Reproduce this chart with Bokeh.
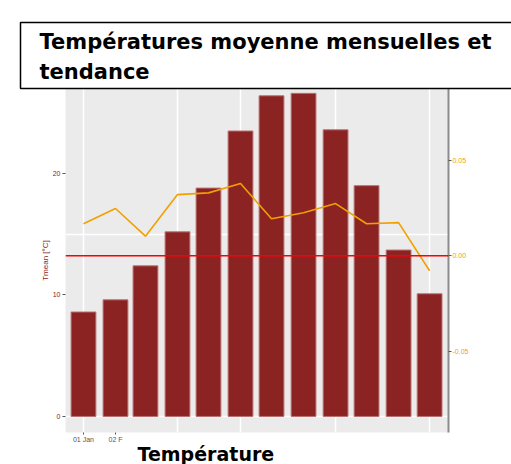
import pandas as pd
from bokeh.plotting import figure
from bokeh.models import (Range1d, LinearAxis, FixedTicker, Span, Title,
                          NumeralTickFormatter, Grid)
from bokeh.embed import file_html
from bokeh.resources import INLINE

# ---- data ----
month_starts = ["2020-01-01", "2020-02-01", "2020-03-01", "2020-04-01",
                "2020-05-01", "2020-06-01", "2020-07-01", "2020-08-01",
                "2020-09-01", "2020-10-01", "2020-11-01", "2020-12-01"]
tmean = [8.6, 9.6, 12.4, 15.2, 18.8, 23.5, 26.4, 26.6, 23.6, 19.0, 13.7, 10.1]
trend = [0.0168, 0.0248, 0.0103, 0.0321, 0.0330, 0.0379, 0.0194, 0.0226,
         0.0274, 0.0168, 0.0174, -0.0078]
grid_dates = ["2020-01-01", "2020-04-01", "2020-06-01", "2020-09-01", "2020-12-01"]
x_tick_dates = ["2020-01-01", "2020-02-01"]
x_tick_labels = ["01 Jan", "02 F"]
left_ticks = [0, 10, 20]
left_grid = [0, 15]
right_ticks = [-0.05, 0.0, 0.05]

title_text = "Températures moyenne mensuelles et\ntendance"
xlabel_text = "Température"
ylabel_text = "Tmean [°C]"


def ms(d):
    return float(pd.Timestamp(d).value // 10**6)


DAY = 86400000.0
xs = [ms(d) for d in month_starts]

# ---- layout ----
W, H = 511, 464
FL, FR, FT, FB = 65, 448, 88, 432
x0 = ms("2020-01-01") - 17.4 * DAY
x1 = ms("2020-12-01") + 18.3 * DAY
y0, y1 = -1.32, 27.0
r0, r1 = -0.0926, 0.0877

BAR = "#8B2323"
ORANGE = "#F2A000"
DARKRED = "#8B1A1A"

p = figure(width=W, height=H, output_backend="svg", toolbar_location=None,
           x_axis_type=None, y_axis_type=None,
           x_range=Range1d(x0, x1), y_range=Range1d(y0, y1),
           min_border_left=FL, min_border_right=W - FR,
           min_border_top=FT, min_border_bottom=H - FB,
           background_fill_color="#EBEBEB", border_fill_color="white",
           outline_line_color=None)
p.extra_y_ranges = {"trend": Range1d(r0, r1)}

# grids
p.add_layout(Grid(dimension=0, ticker=FixedTicker(ticks=[ms(d) for d in grid_dates]),
                  grid_line_color="white", grid_line_width=1.5), "center")
p.add_layout(Grid(dimension=1, ticker=FixedTicker(ticks=left_grid),
                  grid_line_color="white", grid_line_width=1.5), "center")

# left axis
ax_l = LinearAxis(ticker=FixedTicker(ticks=left_ticks), axis_label=ylabel_text)
ax_l.axis_line_color = None
ax_l.major_tick_line_color = "#555555"
ax_l.major_tick_out = 3
ax_l.major_tick_in = 0
ax_l.minor_tick_line_color = None
ax_l.major_label_text_color = DARKRED
ax_l.major_label_text_font = "Liberation Sans"
ax_l.major_label_text_font_size = "7px"
ax_l.major_label_standoff = 2
ax_l.axis_label_text_color = DARKRED
ax_l.axis_label_text_font = "Liberation Sans"
ax_l.axis_label_text_font_size = "8px"
ax_l.axis_label_text_font_style = "normal"
ax_l.axis_label_standoff = 0
p.add_layout(ax_l, "left")

# right axis
ax_r = LinearAxis(y_range_name="trend", ticker=FixedTicker(ticks=right_ticks),
                  formatter=NumeralTickFormatter(format="0.00"))
ax_r.axis_line_color = "#8C8C8C"
ax_r.axis_line_width = 2
ax_r.major_tick_line_color = "#555555"
ax_r.major_tick_out = 3
ax_r.major_tick_in = 0
ax_r.minor_tick_line_color = None
ax_r.major_label_text_color = ORANGE
ax_r.major_label_text_font = "Liberation Sans"
ax_r.major_label_text_font_size = "7px"
ax_r.major_label_standoff = 1
p.add_layout(ax_r, "right")

# bottom axis
tick_ms = [ms(d) for d in x_tick_dates]
ax_b = LinearAxis(ticker=FixedTicker(ticks=tick_ms),
                  major_label_overrides={t: s for t, s in zip(tick_ms, x_tick_labels)})
ax_b.axis_line_color = None
ax_b.major_tick_line_color = "#555555"
ax_b.major_tick_out = 2
ax_b.major_tick_in = 0
ax_b.minor_tick_line_color = None
ax_b.major_label_text_color = "#555555"
ax_b.major_label_text_font = "Liberation Sans"
ax_b.major_label_text_font_size = "7px"
ax_b.major_label_standoff = 1
p.add_layout(ax_b, "below")

# bars
p.vbar(x=xs, top=tmean, bottom=0, width=24 * DAY,
       fill_color=BAR, line_color="#B87070", line_width=1)

# zero line of trend axis
p.add_layout(Span(location=0, dimension="width", y_range_name="trend",
                  line_color="red", line_width=1.5))

# trend line
p.line(xs, trend, y_range_name="trend", line_color=ORANGE, line_width=1.6)

# title box (above)
p.add_layout(Title(text=title_text, align="left", offset=-45, standoff=0,
                   text_font="DejaVu Sans", text_font_style="bold",
                   text_font_size="21px", text_line_height=1.25, text_color="black",
                   border_line_color="black", border_line_width=1.5,
                   background_fill_color="white",
                   padding=dict(left=19, right=200, top=7, bottom=5)), "above")

# x axis title (below)
p.add_layout(Title(text=xlabel_text, align="left", offset=72, standoff=-10,
                   text_font="DejaVu Sans", text_font_style="bold",
                   text_font_size="19px", text_color="black"), "below")

open("out.html", "w").write(file_html(p, INLINE))
